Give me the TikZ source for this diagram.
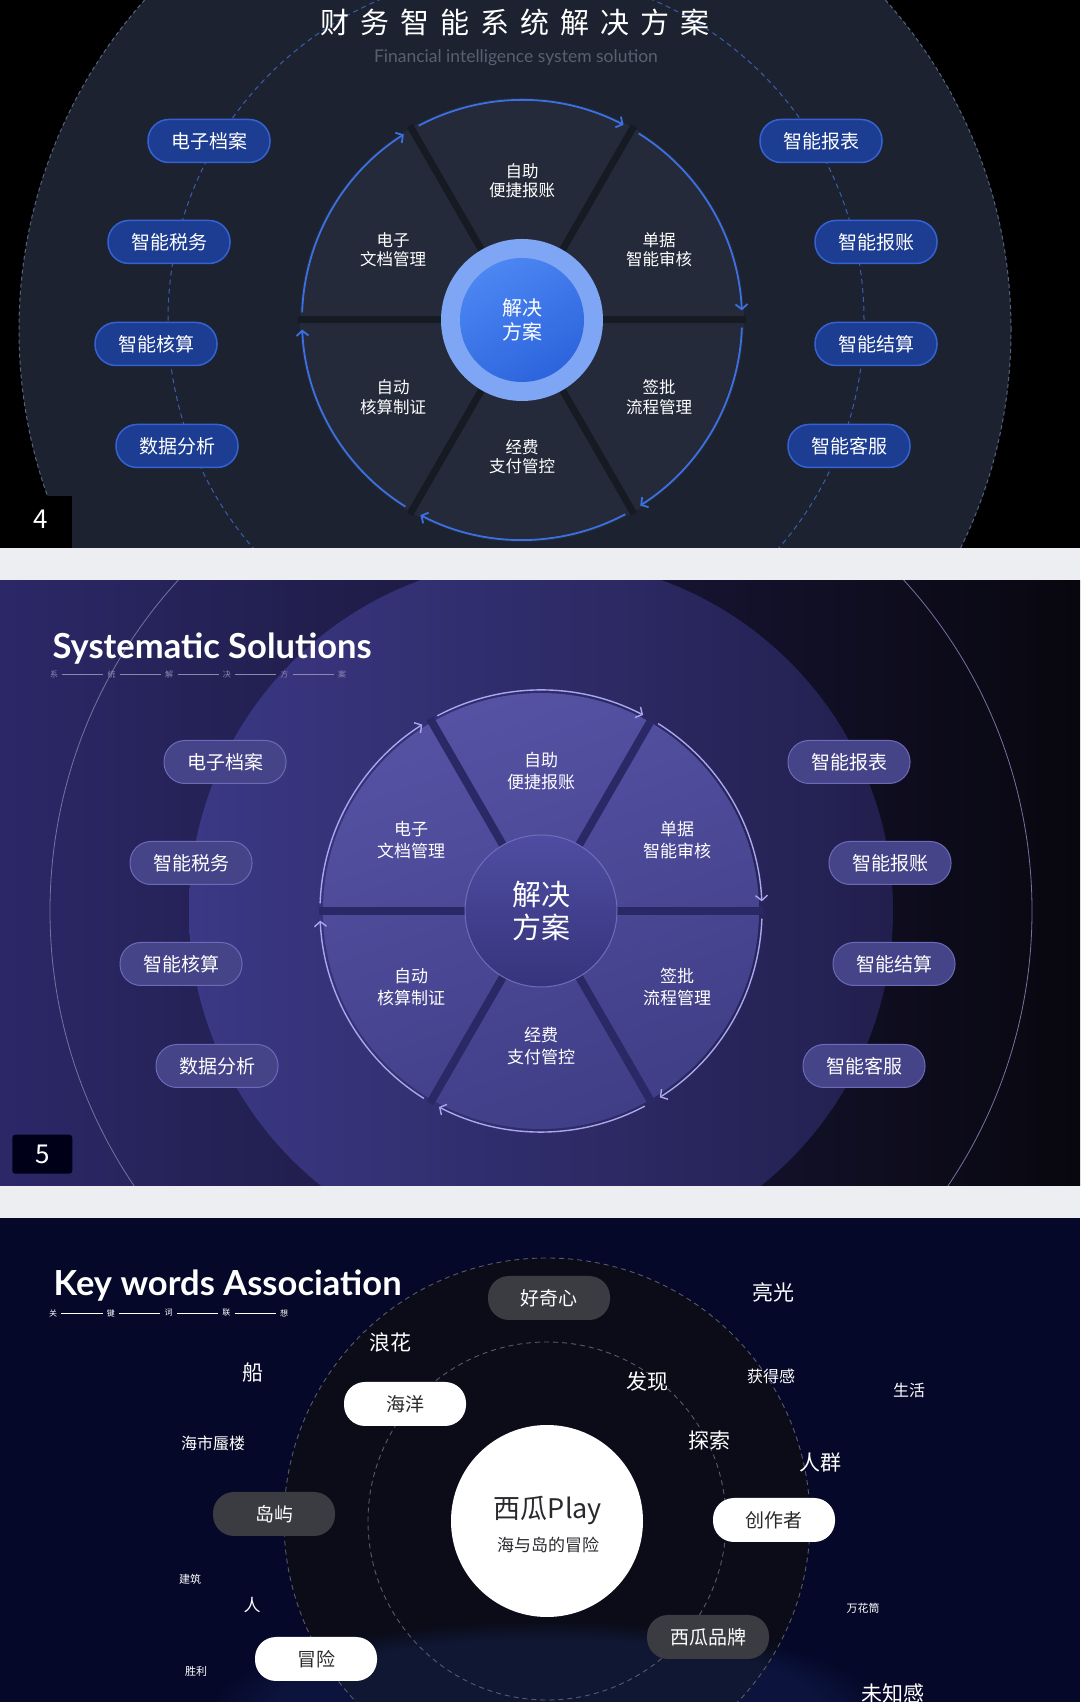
\documentclass[tikz,border=0pt]{standalone}
\usepackage{fontspec}
\setmainfont{Noto Sans CJK SC}
\newfontfamily\latinfont{Lato}
\usetikzlibrary{arrows.meta,fadings}

\definecolor{pageGrey}{HTML}{ECEEF2}
\definecolor{navyA}{HTML}{1D2230}
\definecolor{rimA}{HTML}{56627E}
\definecolor{wheelA}{HTML}{242A39}
\definecolor{gapA}{HTML}{161A23}
\definecolor{ringA}{HTML}{3C70E2}
\definecolor{dashA}{HTML}{3A5DAE}
\definecolor{hubRingA}{HTML}{7EA6F4}
\definecolor{hubTopA}{HTML}{4C86F2}
\definecolor{hubBotA}{HTML}{2D64DD}
\definecolor{pillFillA}{HTML}{1C3D92}
\definecolor{pillEdgeA}{HTML}{3462D2}
\definecolor{subGreyA}{HTML}{596070}
\definecolor{bgLeftB}{HTML}{2C2868}
\definecolor{bgMidB}{HTML}{1E1B4C}
\definecolor{bgRightB}{HTML}{08070F}
\definecolor{discLeftB}{HTML}{3B3885}
\definecolor{discRightB}{HTML}{221F4E}
\definecolor{lineB}{HTML}{76729F}
\definecolor{wheelTopB}{HTML}{5552A4}
\definecolor{wheelBotB}{HTML}{403E86}
\definecolor{gapB}{HTML}{2B2866}
\definecolor{ringB}{HTML}{AAA7EE}
\definecolor{hubTopB}{HTML}{4F4DA2}
\definecolor{hubBotB}{HTML}{36347B}
\definecolor{hubEdgeB}{HTML}{6E6CBC}
\definecolor{pillFillB}{HTML}{464489}
\definecolor{pillEdgeB}{HTML}{6C6AB6}
\definecolor{subGreyB}{HTML}{8A88B0}
\definecolor{bgC}{HTML}{050828}
\definecolor{discC}{HTML}{0B0C18}
\definecolor{glowC}{HTML}{1A2C66}
\definecolor{dashC}{HTML}{575A6C}
\definecolor{pillGreyC}{HTML}{3A3C42}
\definecolor{inkC}{HTML}{2A2A2E}

\begin{document}
\begin{tikzpicture}[x=1pt,y=1pt,line width=0.6pt,
  tag/.style={text=white,align=center,font=\fontsize{16.5}{19.5}\selectfont},
  tagB/.style={tag,font=\fontsize{17}{22}\selectfont},
  pillA/.style={rounded corners=21pt,minimum width=122pt,minimum height=43pt,inner sep=0pt,
    fill=pillFillA,draw=pillEdgeA,line width=1.5pt,text=white,font=\fontsize{19}{22}\selectfont},
  pillB/.style={pillA,fill=pillFillB,draw=pillEdgeB,line width=1pt},
  pillDark/.style={pillA,minimum height=44pt,fill=pillGreyC,draw=none},
  pillLight/.style={pillA,minimum height=44pt,fill=white,draw=none,text=inkC},
  ringArrowA/.style={draw=ringA,line width=1.8pt,-{Straight Barb[length=5pt,width=12pt]}},
  ringArrowB/.style={ringArrowA,draw=ringB,line width=1.4pt},
  word/.style={text=white,inner sep=1pt,font=\fontsize{#1}{#1}\selectfont},
  subchar/.style={text=#1,inner sep=4pt,font=\fontsize{8}{8}\selectfont},
  headline/.style={anchor=base west,text=white,font=\latinfont\bfseries\fontsize{34.5}{36}\selectfont},
  boxnum/.style={text=white,font=\fontsize{26}{26}\selectfont}]
  \useasboundingbox (0,0) rectangle (1080,1702);
  \fill[pageGrey] (0,0) rectangle (1080,1702);

  % 第一页：财务智能系统解决方案
  \begin{scope}[shift={(522,1382)}]
    \clip (-522,-228) rectangle (558,320);
    \fill[black] (-522,-228) rectangle (558,320);
    \fill[navyA] (-7,-10) circle[radius=496];
    \draw[rimA,line width=1pt,dash pattern=on 4pt off 3pt] (-7,-10) circle[radius=496];
    \draw[dashA,line width=1pt,dash pattern=on 5pt off 4pt] (-6,0) circle[radius=348];
    \fill[wheelA] (0,0) circle[radius=222];
    \foreach \a in {0,60,...,300}
      \draw[gapA,line width=7pt] (0,0) -- (\a:224);
    \foreach \s in {178,118,...,-122}
      \draw[ringArrowA] (\s:220) arc[start angle=\s,end angle=\s-55.5,radius=220];
    \fill[hubRingA] (0,0) circle[radius=81];
    \shade[top color=hubTopA,bottom color=hubBotA,shading angle=30] (0,0) circle[radius=62];
    \node[text=white,align=center,font=\fontsize{20}{24}\selectfont] (hubA) at (0,0) {解决\\方案};

    % 扇区文字
    \node[tag] (autoA) at (0,139) {自助\\便捷报账};
    \node[tag] (checkA) at (137,70) {单据\\智能审核};
    \node[tag] (signA) at (137,-77) {签批\\流程管理};
    \node[tag] (payA) at (0,-137) {经费\\支付管控};
    \node[tag] (voucherA) at (-129,-77) {自动\\核算制证};
    \node[tag] (docA) at (-129,70) {电子\\文档管理};

    % 两侧按钮
    \node[pillA] (archA) at (-313,179) {电子档案};
    \node[pillA] (taxA) at (-353,78) {智能税务};
    \node[pillA] (calcA) at (-366,-24) {智能核算};
    \node[pillA] (dataA) at (-345,-126) {数据分析};
    \node[pillA] (reportA) at (299,179) {智能报表};
    \node[pillA] (claimA) at (354,78) {智能报账};
    \node[pillA] (settleA) at (354,-24) {智能结算};
    \node[pillA] (serviceA) at (327,-126) {智能客服};

    \node[text=white,font=\fontsize{29}{30}\selectfont\addfontfeatures{LetterSpace=38}] (titleA) at (-7,298) {财务智能系统解决方案};
    \node[text=subGreyA,font=\latinfont\fontsize{17.5}{19}\selectfont] (enA) at (-6,262) {Financial intelligence system solution};
    \fill[black] (-522,-228) rectangle (-450,-176);
    \node[boxnum] (numA) at (-481,-199) {4};
  \end{scope}

  % 第二页：Systematic Solutions
  \begin{scope}[shift={(541,791)}]
    \clip (-541,-275) rectangle (539,330);
    \shade[left color=bgLeftB,middle color=bgMidB,right color=bgRightB] (-541,-275) rectangle (539,330);
    \shade[left color=discLeftB,right color=discRightB] (0,0) circle[radius=352];
    \draw[lineB,line width=0.8pt] (0,0) circle[radius=491];
    \shade[top color=wheelTopB,bottom color=wheelBotB,shading angle=20] (0,0) circle[radius=218];
    \foreach \a in {0,60,...,300}
      \draw[gapB,line width=8pt] (0,0) -- (\a:222);
    \foreach \s in {178,118,...,-122}
      \draw[ringArrowB] (\s:221) arc[start angle=\s,end angle=\s-55.5,radius=221];
    \shade[top color=hubTopB,bottom color=hubBotB] (0,0) circle[radius=76];
    \draw[hubEdgeB,line width=1pt] (0,0) circle[radius=76];
    \node[text=white,align=center,font=\fontsize{29}{33}\selectfont] (hubB) at (0,0) {解决\\方案};

    % 扇区文字
    \node[tagB] (autoB) at (0,140) {自助\\便捷报账};
    \node[tagB] (checkB) at (136,71) {单据\\智能审核};
    \node[tagB] (signB) at (136,-76) {签批\\流程管理};
    \node[tagB] (payB) at (0,-135) {经费\\支付管控};
    \node[tagB] (voucherB) at (-130,-76) {自动\\核算制证};
    \node[tagB] (docB) at (-130,71) {电子\\文档管理};

    % 两侧按钮
    \node[pillB] (archB) at (-316,149) {电子档案};
    \node[pillB] (taxB) at (-350,48) {智能税务};
    \node[pillB] (calcB) at (-360,-53) {智能核算};
    \node[pillB] (dataB) at (-324,-155) {数据分析};
    \node[pillB] (reportB) at (308,149) {智能报表};
    \node[pillB] (claimB) at (349,48) {智能报账};
    \node[pillB] (settleB) at (353,-53) {智能结算};
    \node[pillB] (serviceB) at (323,-155) {智能客服};

    \node[headline] (titleB) at (-492,252) {Systematic Solutions};
    \foreach \c [count=\i] in {系,统,解,决,方,案}
      \node[subchar=subGreyB] (sb\i) at (-487+57.6*\i-57.6,237) {\c};
    \foreach \i/\j in {1/2,2/3,3/4,4/5,5/6}
      \draw[subGreyB,line width=0.9pt] (sb\i) -- (sb\j);
    \node[boxnum,fill=black!90!blue,rounded corners=3pt,minimum width=60pt,minimum height=39pt,anchor=south west] (numB) at (-529,-263) {5};
  \end{scope}

  % 第三页：关键词联想
  \begin{scope}[shift={(547,181)}]
    \clip (-547,-181) rectangle (533,303);
    \fill[bgC] (-547,-181) rectangle (533,303);
    \fill[discC] (0,0) circle[radius=263];
    \fill[glowC,opacity=0.35,path fading=circle with fuzzy edge 20 percent] (0,-190) ellipse[x radius=340,y radius=90];
    \draw[dashC,line width=0.9pt,dash pattern=on 5pt off 4pt] (0,0) circle[radius=263];
    \draw[dashC,line width=0.9pt,dash pattern=on 5pt off 4pt] (0,0) circle[radius=179];
    \fill[white] (0,0) circle[radius=96];
    \node[text=inkC,font=\fontsize{27}{27}\selectfont] (brandC) at (1,11) {西瓜Play};
    \node[text=inkC,font=\fontsize{17}{17}\selectfont] (sloganC) at (1,-24) {海与岛的冒险};

    % 关键词按钮
    \node[pillDark] (curiousC) at (2,223) {好奇心};
    \node[pillLight] (oceanC) at (-142,117) {海洋};
    \node[pillDark] (islandC) at (-273,7) {岛屿};
    \node[pillLight] (creatorC) at (227,1) {创作者};
    \node[pillDark] (brandTagC) at (161,-116) {西瓜品牌};
    \node[pillLight] (adventureC) at (-231,-138) {冒险};

    % 散落词
    \node[word=21] (w1) at (226,229) {亮光};
    \node[word=21] (w2) at (-157,178) {浪花};
    \node[word=21] (w3) at (-294,148) {船};
    \node[word=21] (w4) at (100,139) {发现};
    \node[word=16] (w5) at (224,145) {获得感};
    \node[word=16] (w6) at (362,131) {生活};
    \node[word=16] (w7) at (-334,78) {海市蜃楼};
    \node[word=21] (w8) at (162,81) {探索};
    \node[word=21] (w9) at (273,58) {人群};
    \node[word=11] (w10) at (-357,-58) {建筑};
    \node[word=17] (w11) at (-295,-84) {人};
    \node[word=11] (w12) at (316,-87) {万花筒};
    \node[word=11] (w13) at (-351,-150) {胜利};
    \node[word=21] (w14) at (346,-172) {未知感};

    \node[headline] (titleC) at (-497,225) {Key words Association};
    \foreach \c [count=\i] in {关,键,词,联,想}
      \node[subchar=white] (sc\i) at (-494+57.8*\i-57.8,208) {\c};
    \foreach \i/\j in {1/2,2/3,3/4,4/5}
      \draw[white,line width=0.7pt] (sc\i) -- (sc\j);
  \end{scope}
\end{tikzpicture}
\end{document}
